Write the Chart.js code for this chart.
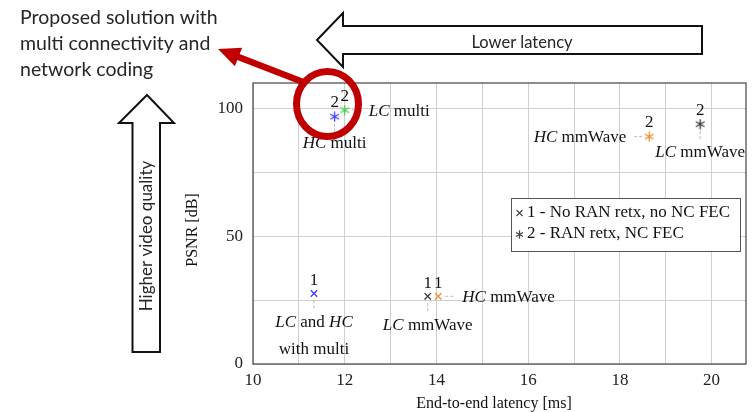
<!DOCTYPE html>
<html>
<head>
<meta charset="utf-8">
<script src="https://cdn.jsdelivr.net/npm/chart.js@4.4.0/dist/chart.umd.min.js"></script>
<style>
  html, body { margin: 0; padding: 0; background: #fff; }
  #c { display: block; }
</style>
</head>
<body>
<canvas id="c" width="754" height="412"></canvas>
<script>
// ---------------- data ----------------
const xTicks = [10, 12, 14, 16, 18, 20];
const yTicks = [0, 50, 100];

// "1 - No RAN retx, no NC FEC" (cross markers)
const latencyNoRetx = [11.33, 13.81, 14.04];
const psnrNoRetx    = [27.6, 26.5, 26.5];
const namesNoRetx   = ['LC and HC with multi', 'LC mmWave', 'HC mmWave'];

// "2 - RAN retx, NC FEC" (asterisk markers)
const latencyRetx = [11.78, 12.0, 18.64, 19.75];
const psnrRetx    = [96.8, 99.4, 89.0, 93.9];
const namesRetx   = ['HC multi', 'LC multi', 'HC mmWave', 'LC mmWave'];

const legendLabels = ['1 - No RAN retx, no NC FEC', '2 - RAN retx, NC FEC'];

// ---------------- styles ----------------
const BLUE = '#3a3aff', GREEN = '#44cc44', ORANGE = '#f08a2a', DARK = '#333333';
const colNoRetx = [BLUE, DARK, ORANGE];
const colRetx = [BLUE, GREEN, ORANGE, DARK];
const SERIF = '"Liberation Serif", "DejaVu Serif", serif';
const SANS = 'Lato, "Open Sans", sans-serif';

function asterisk(color, size) {
  const c = document.createElement('canvas');
  c.width = size; c.height = size;
  const g = c.getContext('2d');
  g.strokeStyle = color; g.lineWidth = 1.3; g.lineCap = 'round';
  const r = size / 2 - 1, cx = size / 2, cy = size / 2;
  for (let k = 0; k < 3; k++) {
    const a = Math.PI / 2 + k * Math.PI / 3;
    g.beginPath();
    g.moveTo(cx + r * Math.cos(a), cy + r * Math.sin(a));
    g.lineTo(cx - r * Math.cos(a), cy - r * Math.sin(a));
    g.stroke();
  }
  return c;
}

// pin annotations (style/offset config for each point label)
const pinsNoRetx = [
  { dir: 'below', lines: [[['LC', 1], [' and ', 0], ['HC', 1]], [['with multi', 0]]], dy: 29, gap: 27 },
  { dir: 'below', lines: [[['LC', 1], [' mmWave', 0]]], dy: 29 },
  { dir: 'right', lines: [[['HC', 1], [' mmWave', 0]]], dx: 24 }
];
const pinsRetx = [
  { dir: 'below', lines: [[['HC', 1], [' multi', 0]]], dy: 27 },
  { dir: 'right', lines: [[['LC', 1], [' multi', 0]]], dx: 24 },
  { dir: 'left',  lines: [[['HC', 1], [' mmWave', 0]]], dx: 23 },
  { dir: 'below', lines: [[['LC', 1], [' mmWave', 0]]], dy: 28 }
];

function richWidth(ctx, parts, size) {
  let w = 0;
  for (const [t, it] of parts) {
    ctx.font = (it ? 'italic ' : '') + size + 'px ' + SERIF;
    w += ctx.measureText(t).width;
  }
  return w;
}
function drawRich(ctx, parts, x, y, align, size) {
  const w = richWidth(ctx, parts, size);
  let sx = align === 'center' ? x - w / 2 : align === 'right' ? x - w : x;
  ctx.textBaseline = 'middle';
  ctx.textAlign = 'left';
  for (const [t, it] of parts) {
    ctx.font = (it ? 'italic ' : '') + size + 'px ' + SERIF;
    ctx.fillText(t, sx, y);
    sx += ctx.measureText(t).width;
  }
}

const annotPlugin = {
  id: 'annot',
  afterDatasetsDraw(chart) {
    const ctx = chart.ctx, xs = chart.scales.x, ys = chart.scales.y;
    const ca = chart.chartArea;
    ctx.save();
    const groups = [
      [latencyNoRetx, psnrNoRetx, pinsNoRetx, '1', -13],
      [latencyRetx, psnrRetx, pinsRetx, '2', -14]
    ];
    for (const [lx, ly, pins, num, ndy] of groups) {
      lx.forEach((v, i) => {
        const px = xs.getPixelForValue(v), py = ys.getPixelForValue(ly[i]);
        const p = pins[i];
        ctx.strokeStyle = '#b8b8b8'; ctx.lineWidth = 1; ctx.setLineDash([3, 2]);
        ctx.beginPath();
        if (p.dir === 'below') { ctx.moveTo(px, py + 7); ctx.lineTo(px, py + 15); }
        else if (p.dir === 'right') { ctx.moveTo(px + 7, py); ctx.lineTo(px + 16, py); }
        else { ctx.moveTo(px - 7, py); ctx.lineTo(px - 16, py); }
        ctx.stroke(); ctx.setLineDash([]);
        ctx.fillStyle = '#111';
        p.lines.forEach((ln, k) => {
          if (p.dir === 'below') drawRich(ctx, ln, px, py + p.dy + k * (p.gap || 0), 'center', 17);
          else if (p.dir === 'right') drawRich(ctx, ln, px + p.dx, py + 1, 'left', 17);
          else drawRich(ctx, ln, px - p.dx, py + 1, 'right', 17);
        });
        ctx.font = '17px ' + SERIF; ctx.textAlign = 'center'; ctx.textBaseline = 'middle';
        ctx.fillStyle = '#111';
        ctx.fillText(num, px, py + ndy);
      });
    }
    // legend box
    ctx.fillStyle = '#fff'; ctx.strokeStyle = '#555'; ctx.lineWidth = 1;
    ctx.fillRect(511.5, 198.5, 229, 53); ctx.strokeRect(511.5, 198.5, 229, 53);
    ctx.fillStyle = '#111'; ctx.font = '17px ' + SERIF; ctx.textAlign = 'left'; ctx.textBaseline = 'middle';
    ctx.fillText(legendLabels[0], 527, 213);
    ctx.fillText(legendLabels[1], 527, 234);
    ctx.strokeStyle = '#444'; ctx.lineWidth = 1.1;
    ctx.beginPath(); ctx.moveTo(516.5, 210); ctx.lineTo(522.5, 216); ctx.moveTo(522.5, 210); ctx.lineTo(516.5, 216); ctx.stroke();
    ctx.drawImage(asterisk('#444', 9), 515, 230);
    // frame
    ctx.strokeStyle = '#444'; ctx.lineWidth = 1.2;
    ctx.strokeRect(ca.left, ca.top, ca.right - ca.left, ca.bottom - ca.top);
    ctx.restore();
  },
  afterDraw(chart) {
    const ctx = chart.ctx;
    ctx.save();
    // axis titles
    ctx.fillStyle = '#111'; ctx.font = '16px ' + SERIF; ctx.textAlign = 'center'; ctx.textBaseline = 'middle';
    ctx.fillText('End-to-end latency [ms]', 494, 404);
    ctx.save(); ctx.translate(193, 230); ctx.rotate(-Math.PI / 2);
    ctx.fillText('PSNR [dB]', 0, 0); ctx.restore();

    // outer annotation text
    ctx.font = '19.5px ' + SANS; ctx.textAlign = 'left'; ctx.textBaseline = 'alphabetic'; ctx.fillStyle = '#262626';
    ctx.fillText('Proposed solution with', 20, 24);
    ctx.fillText('multi connectivity and', 20, 50);
    ctx.fillText('network coding', 20, 76);

    // left arrow "Lower latency"
    ctx.fillStyle = '#fff'; ctx.strokeStyle = '#111'; ctx.lineWidth = 2; ctx.lineJoin = 'miter';
    ctx.beginPath();
    ctx.moveTo(317, 40); ctx.lineTo(343, 13); ctx.lineTo(343, 26); ctx.lineTo(702, 26);
    ctx.lineTo(702, 54); ctx.lineTo(343, 54); ctx.lineTo(343, 67); ctx.closePath();
    ctx.fill(); ctx.stroke();
    ctx.fillStyle = '#262626'; ctx.font = '16.5px ' + SANS; ctx.textAlign = 'center'; ctx.textBaseline = 'middle';
    ctx.fillText('Lower latency', 522, 43);

    // up arrow "Higher video quality"
    ctx.fillStyle = '#fff'; ctx.strokeStyle = '#111'; ctx.lineWidth = 2;
    ctx.beginPath();
    ctx.moveTo(147, 95); ctx.lineTo(174, 123); ctx.lineTo(160, 123); ctx.lineTo(160, 352);
    ctx.lineTo(132.5, 352); ctx.lineTo(132.5, 123); ctx.lineTo(119, 123); ctx.closePath();
    ctx.fill(); ctx.stroke();
    ctx.save(); ctx.translate(147, 236); ctx.rotate(-Math.PI / 2);
    ctx.fillStyle = '#262626'; ctx.font = '17px ' + SANS; ctx.textAlign = 'center'; ctx.textBaseline = 'middle';
    ctx.fillText('Higher video quality', 0, 0); ctx.restore();

    // red circle and arrow
    const RED = '#c00000';
    ctx.strokeStyle = RED; ctx.lineWidth = 7;
    ctx.beginPath(); ctx.ellipse(327.5, 104, 31, 32.5, 0, 0, Math.PI * 2); ctx.stroke();
    ctx.lineWidth = 6.5; ctx.lineCap = 'butt';
    ctx.beginPath(); ctx.moveTo(303, 82); ctx.lineTo(232, 54.5); ctx.stroke();
    const ang = Math.atan2(82 - 49, 303 - 218);
    ctx.fillStyle = RED;
    ctx.beginPath();
    ctx.moveTo(218, 49);
    ctx.lineTo(218 + 22 * Math.cos(ang) - 10 * Math.sin(ang), 49 + 22 * Math.sin(ang) + 10 * Math.cos(ang));
    ctx.lineTo(218 + 22 * Math.cos(ang) + 10 * Math.sin(ang), 49 + 22 * Math.sin(ang) - 10 * Math.cos(ang));
    ctx.closePath(); ctx.fill();
    ctx.restore();
  }
};

const starImgs = colRetx.map(c => asterisk(c, 11));

new Chart(document.getElementById('c'), {
  type: 'scatter',
  data: {
    datasets: [
      {
        label: legendLabels[0],
        data: latencyNoRetx.map((x, i) => ({ x, y: psnrNoRetx[i] })),
        pointStyle: 'crossRot',
        pointRadius: 4.5,
        pointBorderWidth: 1.3,
        pointBorderColor: colNoRetx,
        pointBackgroundColor: colNoRetx
      },
      {
        label: legendLabels[1],
        data: latencyRetx.map((x, i) => ({ x, y: psnrRetx[i] })),
        pointStyle: starImgs,
        pointRadius: 5,
        pointBorderColor: colRetx,
        pointBackgroundColor: colRetx
      }
    ]
  },
  options: {
    responsive: false,
    devicePixelRatio: 1,
    animation: false,
    layout: { padding: { left: 0, right: 8, top: 83, bottom: 0 } },
    plugins: { legend: { display: false }, tooltip: { enabled: false } },
    scales: {
      x: {
        type: 'linear', min: 10, max: 20.75,
        afterFit: s => { s.height = 48; },
        border: { display: false },
        grid: { color: '#cfcfcf', lineWidth: 1, drawTicks: false },
        ticks: {
          stepSize: 1, includeBounds: false, padding: 6, maxRotation: 0, autoSkip: false,
          color: '#222', font: { family: SERIF, size: 17 },
          callback: v => (xTicks.includes(v) ? String(v) : '')
        }
      },
      y: {
        type: 'linear', min: 0, max: 110,
        afterFit: s => { s.width = 253; },
        border: { display: false },
        grid: { color: '#cfcfcf', lineWidth: 1, drawTicks: false },
        ticks: {
          stepSize: 25, includeBounds: false, padding: 10, autoSkip: false,
          color: '#222', font: { family: SERIF, size: 17 },
          callback: v => (yTicks.includes(v) ? String(v) : '')
        }
      }
    }
  },
  plugins: [annotPlugin]
});
</script>
</body>
</html>
